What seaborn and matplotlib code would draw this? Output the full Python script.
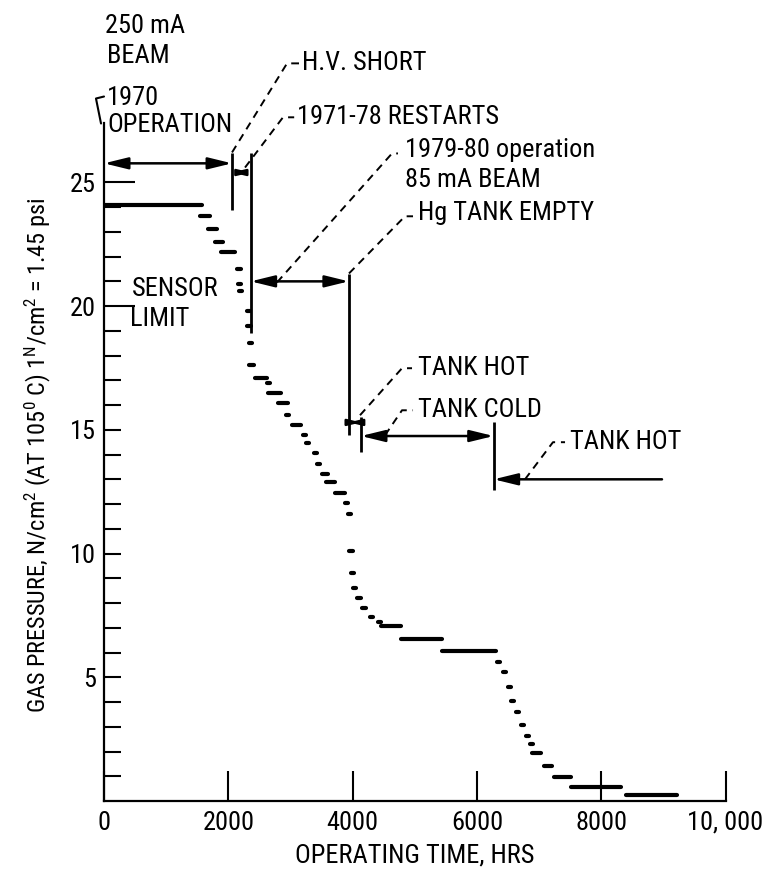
import os
import numpy as np
import pandas as pd
import matplotlib
matplotlib.use("Agg")
import matplotlib.pyplot as plt
import seaborn as sns
from matplotlib import font_manager

# step segments: start hour, end hour, gas pressure
seg_start = [0, 1550, 1670, 1785, 1875, 2140, 2150, 2170, 2300, 2300, 2330, 2340,
             2430, 2620, 2640, 2795, 2930, 3030, 3205, 3250, 3375, 3425, 3510, 3580,
             3710, 3880, 3925, 3950, 3975, 4005, 4075, 4155, 4275, 4410, 4460, 4780,
             5440, 6320, 6420, 6500, 6550, 6630, 6710, 6790, 6850, 6890, 7080, 7240,
             7510, 8400]
seg_end = [1580, 1700, 1820, 1915, 2105, 2210, 2200, 2220, 2350, 2360, 2380, 2410,
           2615, 2670, 2855, 2955, 2980, 3165, 3255, 3300, 3425, 3475, 3600, 3710,
           3870, 3930, 3975, 4000, 4025, 4055, 4135, 4215, 4335, 4450, 4780, 5440,
           6300, 6370, 6470, 6550, 6600, 6680, 6760, 6840, 6900, 7030, 7210, 7510,
           8320, 9220]
seg_pressure = [24.07, 23.65, 23.1, 22.6, 22.2, 21.5, 20.9, 20.6, 19.8, 19.2, 18.5, 17.6,
                17.1, 16.9, 16.5, 16.1, 15.6, 15.2, 14.8, 14.45, 14.05, 13.6, 13.2, 12.9,
                12.45, 12.05, 11.6, 10.1, 9.2, 8.6, 8.2, 7.8, 7.45, 7.25, 7.07, 6.55,
                6.07, 5.63, 5.22, 4.6, 4.05, 3.6, 3.07, 2.64, 2.3, 1.94, 1.43, 0.97,
                0.55, 0.25]

# operating periods (hours)
events = [2060, 2360, 3940, 4135, 6270]

x_ticks = [0, 2000, 4000, 6000, 8000, 10000]
x_tick_labels = ["0", "2000", "4000", "6000", "8000", "10, 000"]
y_ticks = [5, 10, 15, 20, 25]

sns.set_style("ticks", rc={"text.color": "black", "axes.labelcolor": "black",
                           "xtick.color": "black", "ytick.color": "black",
                           "axes.edgecolor": "black"})

# look for a narrow / condensed face, the scan uses a condensed gothic
prefs = ["liberationsansnarrow-regular", "robotocondensed-regular",
         "dejavusanscondensed.", "opensans_condensed-regular", "opensanscondensed",
         "notosans-condensed.", "notosans-condensed-regular"]
cands = []
for f in font_manager.fontManager.ttflist:
    fn = os.path.basename(f.fname).lower()
    if ("narrow" in fn or "condensed" in fn) and f.style == "normal" \
            and "bold" not in fn and "italic" not in fn and "light" not in fn:
        rank = len(prefs)
        for i, p in enumerate(prefs):
            if fn.startswith(p):
                rank = i
                break
        cands.append((rank, f))
cands.sort(key=lambda c: c[0])
if cands:
    face = cands[0][1]
    family, stretch, fs = face.name, face.stretch, 19
else:
    family, stretch, fs = "DejaVu Sans", "normal", 16

plt.rcParams["font.family"] = [family, "DejaVu Sans"]
plt.rcParams["font.stretch"] = stretch
plt.rcParams["mathtext.fontset"] = "custom"
plt.rcParams["mathtext.rm"] = family
plt.rcParams["mathtext.it"] = family
plt.rcParams["mathtext.bf"] = family

n = len(seg_start)
df = pd.DataFrame({
    "seg": np.repeat(np.arange(n), 2),
    "hours": np.column_stack([seg_start, seg_end]).ravel(),
    "pressure": np.repeat(seg_pressure, 2),
})

fig = plt.figure(figsize=(7.65, 8.74), dpi=100)
ax = fig.add_axes([104 / 765, 1 - 801 / 874, 621.5 / 765, 678 / 874])

sns.lineplot(data=df, x="hours", y="pressure", units="seg", estimator=None,
             sort=False, color="black", lw=3, legend=False, ax=ax)

ax.set_xlim(0, 10000)
ax.set_ylim(0, 27.4)
sns.despine(ax=ax)
for s in ["left", "bottom"]:
    ax.spines[s].set_linewidth(1.6)

ax.set_xticks(x_ticks)
ax.set_xticklabels(x_tick_labels)
ax.set_yticks(y_ticks)
ax.set_yticks(range(1, 26), minor=True)
ax.tick_params(axis="x", direction="in", length=21.6, width=1.5, pad=7, labelsize=fs)
ax.tick_params(axis="y", which="both", direction="in", length=12.5, width=1.5,
               pad=6, labelsize=fs)
for t in ax.yaxis.get_major_ticks()[3:]:
    t.tick1line.set_markersize(22)
ax.set_xlabel("")
ax.set_ylabel("")

fig.text(415 / 765, 1 - 855 / 874, "OPERATING TIME, HRS", ha="center", va="center",
         fontsize=fs)
fig.text(38 / 765, 1 - 455 / 874,
         r"GAS PRESSURE, N/cm$^2$ (AT 105$^0$ C) 1$^{\rm N}$/cm$^2$ = 1.45 psi",
         rotation=90, ha="center", va="center", fontsize=fs - 1.5)

# period lines and arrows
vl = dict(color="black", lw=2, clip_on=False)
ax.vlines(events[0], 23.9, 26.2, **vl)
ax.vlines(events[1], 18.9, 26.2, **vl)
ax.vlines(events[2], 14.8, 21.3, **vl)
ax.vlines(events[3], 14.1, 15.5, **vl)
ax.vlines(events[4], 12.56, 15.3, **vl)


def arrow(x0, x1, y, style="<|-|>,head_length=0.9,head_width=0.22", ms=16):
    ax.annotate("", xy=(x1, y), xytext=(x0, y), annotation_clip=False,
                arrowprops=dict(arrowstyle=style, color="black", lw=1.8,
                                mutation_scale=ms, shrinkA=0, shrinkB=0))


arrow(0, events[0], 25.77)
arrow(events[0], events[1], 25.4, ms=8)
arrow(events[1], events[2], 21.0)
arrow(events[2], events[3], 15.3, ms=8)
arrow(events[3], events[4], 14.75)
arrow(8978, events[4], 13.0, style="-|>,head_length=0.9,head_width=0.22")

# hook from "1970" down into the axis line
ax.plot([0, -129, -48], [28.47, 28.39, 27.38], color="black", lw=1.5, clip_on=False)

# dashed leaders
ld = dict(color="black", lw=1.4, ls=(0, (4, 3)), clip_on=False)
ax.plot([2060, 2945, 3154], [26.21, 29.81, 29.81], **ld)
ax.plot([2269, 2880, 3060], [25.6, 27.63, 27.63], **ld)
ax.plot([2784, 4634, 4730], [20.96, 26.17, 26.17], **ld)
ax.plot([3942, 4843, 4972], [21.32, 23.63, 23.63], **ld)
ax.plot([4119, 4795, 4956], [15.59, 17.49, 17.49], **ld)
ax.plot([4521, 4795, 4972], [14.78, 15.79, 15.79], **ld)
ax.plot([6774, 7224, 7418], [13.0, 14.5, 14.5], **ld)

labels = [
    ("250 mA", 16, 31.3), ("BEAM", 48, 30.1),
    ("1970", 48, 28.43), ("OPERATION", 48, 27.3),
    ("H.V. SHORT", 3186, 29.81), ("1971-78 RESTARTS", 3105, 27.63),
    ("1979-80 operation", 4843, 26.29), ("85 mA BEAM", 4843, 25.08),
    ("Hg TANK EMPTY", 5052, 23.75),
    ("SENSOR", 450, 20.68), ("LIMIT", 418, 19.47),
    ("TANK HOT", 5052, 17.49), ("TANK COLD", 5052, 15.79),
    ("TANK HOT", 7498, 14.5),
]
for s, x, y in labels:
    ax.text(x, y, s, ha="left", va="center", fontsize=fs)

fig.savefig("out.png", dpi=100)
